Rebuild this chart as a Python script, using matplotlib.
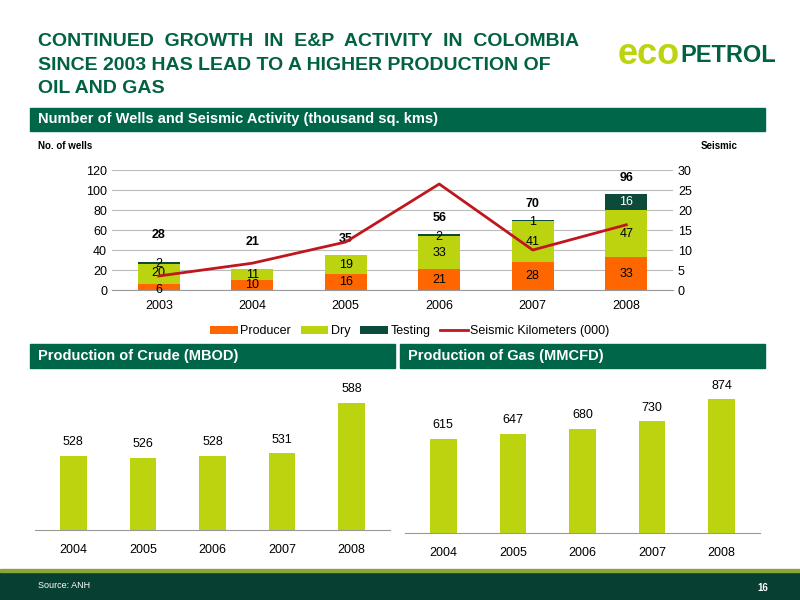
import matplotlib
matplotlib.use("Agg")
import matplotlib.pyplot as plt
from matplotlib.patches import Rectangle
import numpy as np

plt.rcParams['font.family'] = ['Liberation Sans', 'DejaVu Sans']

years = ["2003", "2004", "2005", "2006", "2007", "2008"]
producer = [6, 10, 16, 21, 28, 33]
dry = [20, 11, 19, 33, 41, 47]
testing = [2, 0, 0, 2, 1, 16]
totals = [28, 21, 35, 56, 70, 96]
seismic = [3.5, 6.7, 12.0, 26.5, 10.0, 16.3]

crude_years = ["2004", "2005", "2006", "2007", "2008"]
crude = [528, 526, 528, 531, 588]
gas_years = ["2004", "2005", "2006", "2007", "2008"]
gas = [615, 647, 680, 730, 874]

ORANGE = "#ff6600"
LIME = "#bcd40f"
DKGREEN = "#0c4a3c"
HDR = "#00664a"
RED = "#c0161d"

fig = plt.figure(figsize=(8, 6), dpi=100)
W, H = 800, 600
def fr(x, y, w, h):
    return [x / W, 1 - (y + h) / H, w / W, h / H]

# Title
title_lines = ["CONTINUED  GROWTH  IN  E&P  ACTIVITY  IN  COLOMBIA",
               "SINCE 2003 HAS LEAD TO A HIGHER PRODUCTION OF",
               "OIL AND GAS"]
for k, t in enumerate(title_lines):
    fig.text(38/W, 1-(42 + 23*k)/H, t, ha="left", va="center", fontsize=14,
             fontweight="bold", color="#006241")
fig.text(618/W, 1-55/H, "eco", fontsize=26, fontweight="bold", color=LIME, va="center")
fig.text(680/W, 1-55/H, "PETROL", fontsize=17, fontweight="bold", color="#006241", va="center")

def header(x, y, w, h, txt):
    fig.patches.append(Rectangle((x/W, 1-(y+h)/H), w/W, h/H, transform=fig.transFigure, color=HDR, zorder=0))
    fig.text((x+8)/W, 1-(y+h/2)/H, txt, color="white", fontweight="bold", fontsize=10.5, va="center")

header(30, 108, 735, 23, "Number of Wells and Seismic Activity (thousand sq. kms)")
header(30, 344, 365, 24, "Production of Crude (MBOD)")
header(400, 344, 365, 24, "Production of Gas (MMCFD)")

# footer
fig.patches.append(Rectangle((0, 0), 1, 28/H, transform=fig.transFigure, color="#073f33", zorder=0))
fig.patches.append(Rectangle((0, 28/H), 1, 3/H, transform=fig.transFigure, color="#8aa63a", zorder=0))
fig.text(38/W, 14/H, "Source: ANH", color="white", fontsize=6.5, va="center")
fig.text(768/W, 12/H, "16", color="white", fontsize=7, fontweight="bold", va="center", ha="right")

# Top chart
ax = fig.add_axes(fr(112, 170, 561, 120))
x = np.arange(len(years))
bw = 0.45
b1 = ax.bar(x, producer, bw, color=ORANGE, label="Producer", zorder=2)
b2 = ax.bar(x, dry, bw, bottom=producer, color=LIME, label="Dry", zorder=2)
bot2 = [p + d for p, d in zip(producer, dry)]
b3 = ax.bar(x, testing, bw, bottom=bot2, color=DKGREEN, label="Testing", zorder=2)
ax.set_ylim(0, 120)
ax.set_yticks(range(0, 121, 20))
ax.set_xlim(-0.5, 5.5)
ax.set_xticks(x)
ax.set_xticklabels(years, fontsize=9)
ax.tick_params(axis="y", labelsize=9, length=0)
ax.tick_params(axis="x", length=0, pad=7)
ax.grid(axis="y", color="#bbbbbb", lw=0.8, zorder=0)
for s in ["top", "right", "left"]:
    ax.spines[s].set_visible(False)
ax.spines["bottom"].set_color("#999999")
for i in range(len(years)):
    ax.text(i, producer[i] / 2 - 3 if i == 0 else producer[i] / 2, str(producer[i]), ha="center", va="center", fontsize=9, zorder=5)
    ax.text(i, producer[i] + dry[i] / 2 + (1 if i == 0 else 0), str(dry[i]), ha="center", va="center", fontsize=9, zorder=5)
    if testing[i]:
        off = testing[i] / 2 if testing[i] > 5 else -1
        if i == 0:
            off = 0
        ax.text(i, bot2[i] + off, str(testing[i]), ha="center", va="center", fontsize=9,
                color="white" if testing[i] > 5 else "black", zorder=5)
    ax.text(i, totals[i] + (21 if i < 2 else 10), str(totals[i]), ha="center", va="bottom", fontsize=9, fontweight="bold")
ax2 = ax.twinx()
ln, = ax2.plot(x, seismic, color=RED, lw=2, label="Seismic Kilometers (000)")
ax2.set_ylim(0, 30)
ax2.set_yticks(range(0, 31, 5))
ax2.tick_params(labelsize=9, length=0)
for s in ["top", "right", "left", "bottom"]:
    ax2.spines[s].set_visible(False)
fig.text(38/W, 1-146/H, "No. of wells", fontsize=7, fontweight="bold", va="center")
fig.text(738/W, 1-146/H, "Seismic", fontsize=7, fontweight="bold", va="center", ha="right")
fig.legend(handles=[b1, b2, b3, ln], loc="center", bbox_to_anchor=(410/W, 1-331/H), ncol=4, frameon=False,
           fontsize=9, handlelength=2.2, handleheight=0.6, columnspacing=0.8, handletextpad=0.2)

def small(rect, cats, vals, ymin, ymax):
    a = fig.add_axes(fr(*rect))
    xx = np.arange(len(cats))
    a.bar(xx, [v - ymin for v in vals], 0.38, bottom=ymin, color=LIME)
    a.set_ylim(ymin, ymax)
    a.set_xlim(-0.55, len(cats) - 0.45)
    a.set_xticks(xx)
    a.set_xticklabels(cats, fontsize=9)
    a.set_yticks([])
    a.tick_params(axis="x", length=0, pad=10)
    for s in ["top", "right", "left"]:
        a.spines[s].set_visible(False)
    a.spines["bottom"].set_color("#999999")
    for i, v in enumerate(vals):
        a.text(i, v + (ymax - ymin) * 0.05, str(v), ha="center", va="bottom", fontsize=9)

small((35, 380, 355, 150), crude_years, crude, 444, 614)
small((405, 380, 355, 153), gas_years, gas, 0, 1000)

fig.savefig("out.png", dpi=100)
